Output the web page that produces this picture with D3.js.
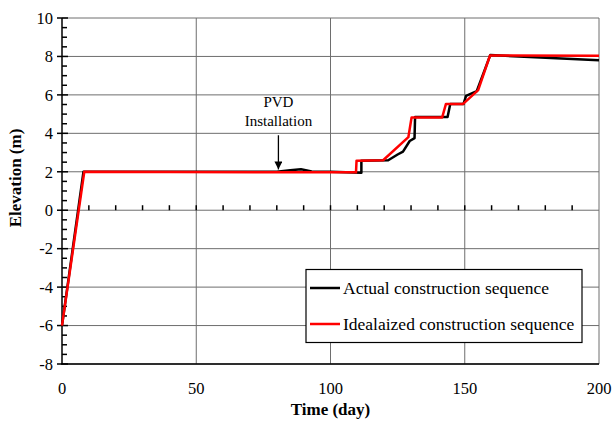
<!DOCTYPE html>
<html>
<head>
<meta charset="utf-8">
<script src="https://cdn.jsdelivr.net/npm/d3@7"></script>
<style>
  body { margin: 0; background: white; }
  text { font-family: "Liberation Serif", "Times New Roman", serif; fill: black; }
</style>
</head>
<body>
<script>
// actual construction sequence (day, elevation m)
const actualDay  = [0, 8, 80, 85, 89, 93, 100, 111.5, 111.5, 121.5, 125, 127, 129.5, 131.3, 131.5, 143.6, 144.6, 149.5, 150.5, 154.5, 159.5, 200];
const actualElev = [-6, 2, 2, 2.08, 2.13, 2.02, 2.0, 1.95, 2.58, 2.6, 2.9, 3.05, 3.6, 3.75, 4.85, 4.85, 5.52, 5.52, 5.95, 6.2, 8.07, 7.8];
// idealized construction sequence
const idealDay  = [0, 8.3, 109.5, 109.7, 119.6, 129, 130.2, 141.6, 143, 149.4, 155, 159.4, 200];
const idealElev = [-6, 2, 1.97, 2.58, 2.6, 3.8, 4.83, 4.83, 5.53, 5.53, 6.25, 8.05, 8.03];

const xTicks = [0, 50, 100, 150, 200];
const yTicks = [-8, -6, -4, -2, 0, 2, 4, 6, 8, 10];
const seriesNames = ["Actual construction sequence", "Idealaized construction sequence"];

function main(){
    const width = 614, height = 422;
    const margin = {top: 18, right: 15, bottom: 58, left: 62};

    const svg = d3.select("body").append("svg")
        .attr("width", width)
        .attr("height", height);

    const x = d3.scaleLinear().domain([0, 200]).range([margin.left, width - margin.right]);
    const y = d3.scaleLinear().domain([-8, 10]).range([height - margin.bottom, margin.top]);

    // grid
    svg.append("g").selectAll("line")
        .data(yTicks)
        .enter().append("line")
        .attr("x1", x(0)).attr("x2", x(200))
        .attr("y1", d => y(d)).attr("y2", d => y(d))
        .attr("stroke", "#6e6e6e").attr("stroke-width", 1);
    svg.append("g").selectAll("line")
        .data(xTicks.slice(1))
        .enter().append("line")
        .attr("x1", d => x(d)).attr("x2", d => x(d))
        .attr("y1", y(10)).attr("y2", y(-8))
        .attr("stroke", "#6e6e6e").attr("stroke-width", 1);

    // left axis with minor ticks every 0.5
    const yAxis = svg.append("g").attr("transform", `translate(${x(0)},0)`);
    yAxis.append("line")
        .attr("y1", y(10)).attr("y2", y(-8))
        .attr("stroke", "black").attr("stroke-width", 1.5);
    yAxis.selectAll(".minor")
        .data(d3.range(-8, 10.01, 0.5))
        .enter().append("line")
        .attr("x1", 0).attr("x2", d => (d % 2 === 0) ? -5 : 5)
        .attr("y1", d => y(d)).attr("y2", d => y(d))
        .attr("stroke", "black").attr("stroke-width", 1.5);
    yAxis.selectAll(".major")
        .data(yTicks)
        .enter().append("line")
        .attr("x1", 0).attr("x2", 6)
        .attr("y1", d => y(d)).attr("y2", d => y(d))
        .attr("stroke", "black").attr("stroke-width", 1.5);
    yAxis.selectAll("text")
        .data(yTicks)
        .enter().append("text")
        .attr("x", -9)
        .attr("y", d => y(d))
        .attr("dy", "0.35em")
        .attr("text-anchor", "end")
        .attr("font-size", "16.5px")
        .text(d => d);

    // bottom axis line
    svg.append("line")
        .attr("x1", x(0) - 1).attr("x2", x(200))
        .attr("y1", y(-8)).attr("y2", y(-8))
        .attr("stroke", "black").attr("stroke-width", 1.5);

    // ticks along the zero line, every 10 days
    svg.append("g").selectAll("line")
        .data(d3.range(10, 200, 10))
        .enter().append("line")
        .attr("x1", d => x(d)).attr("x2", d => x(d))
        .attr("y1", y(0)).attr("y2", y(0) - 5)
        .attr("stroke", "black").attr("stroke-width", 1.5);

    svg.append("g").selectAll("text")
        .data(xTicks)
        .enter().append("text")
        .attr("x", d => x(d))
        .attr("y", y(-8) + 30)
        .attr("text-anchor", "middle")
        .attr("font-size", "16.5px")
        .text(d => d);

    // axis titles
    svg.append("text")
        .attr("x", x(100))
        .attr("y", 415)
        .attr("text-anchor", "middle")
        .attr("font-size", "17px")
        .attr("font-weight", "bold")
        .text("Time (day)");
    svg.append("text")
        .attr("transform", "translate(21,178) rotate(-90)")
        .attr("text-anchor", "middle")
        .attr("font-size", "17px")
        .attr("font-weight", "bold")
        .text("Elevation (m)");

    // series
    const line = d3.line().x(d => x(d[0])).y(d => y(d[1]));
    const actual = actualDay.map((d, i) => [d, actualElev[i]]);
    const ideal = idealDay.map((d, i) => [d, idealElev[i]]);
    svg.append("path").datum(actual)
        .attr("d", line).attr("fill", "none")
        .attr("stroke", "black").attr("stroke-width", 2.5)
        .attr("stroke-linejoin", "round");
    svg.append("path").datum(ideal)
        .attr("d", line).attr("fill", "none")
        .attr("stroke", "#ff0000").attr("stroke-width", 2.5)
        .attr("stroke-linejoin", "round");

    // PVD annotation
    svg.append("defs").append("marker")
        .attr("id", "arrow")
        .attr("viewBox", "0 0 10 10")
        .attr("refX", 10).attr("refY", 5)
        .attr("markerWidth", 8).attr("markerHeight", 8)
        .attr("markerUnits", "userSpaceOnUse")
        .attr("orient", "auto")
        .append("path").attr("d", "M0,0 L10,5 L0,10 Z").attr("fill", "black");
    svg.append("line")
        .attr("x1", x(80.6)).attr("x2", x(80.6))
        .attr("y1", y(3.9)).attr("y2", y(2.12))
        .attr("stroke", "black").attr("stroke-width", 1.3)
        .attr("marker-end", "url(#arrow)");
    svg.append("text")
        .attr("x", x(80.6)).attr("y", y(5.35))
        .attr("text-anchor", "middle").attr("font-size", "15px")
        .text("PVD");
    svg.append("text")
        .attr("x", x(80.6)).attr("y", y(4.4))
        .attr("text-anchor", "middle").attr("font-size", "15px")
        .text("Installation");

    // legend
    const lg = svg.append("g");
    lg.append("rect")
        .attr("x", 306).attr("y", 269.5)
        .attr("width", 276).attr("height", 73)
        .attr("fill", "white").attr("stroke", "black").attr("stroke-width", 1.2);
    const colors = ["black", "#ff0000"];
    seriesNames.forEach((name, i) => {
        const ly = 288 + i * 36;
        lg.append("line")
            .attr("x1", 310).attr("x2", 340)
            .attr("y1", ly).attr("y2", ly)
            .attr("stroke", colors[i]).attr("stroke-width", 2.5);
        lg.append("text")
            .attr("x", 343).attr("y", ly)
            .attr("dy", "0.35em")
            .attr("font-size", "17.5px")
            .text(name);
    });
}

main()
</script>
</body>
</html>
